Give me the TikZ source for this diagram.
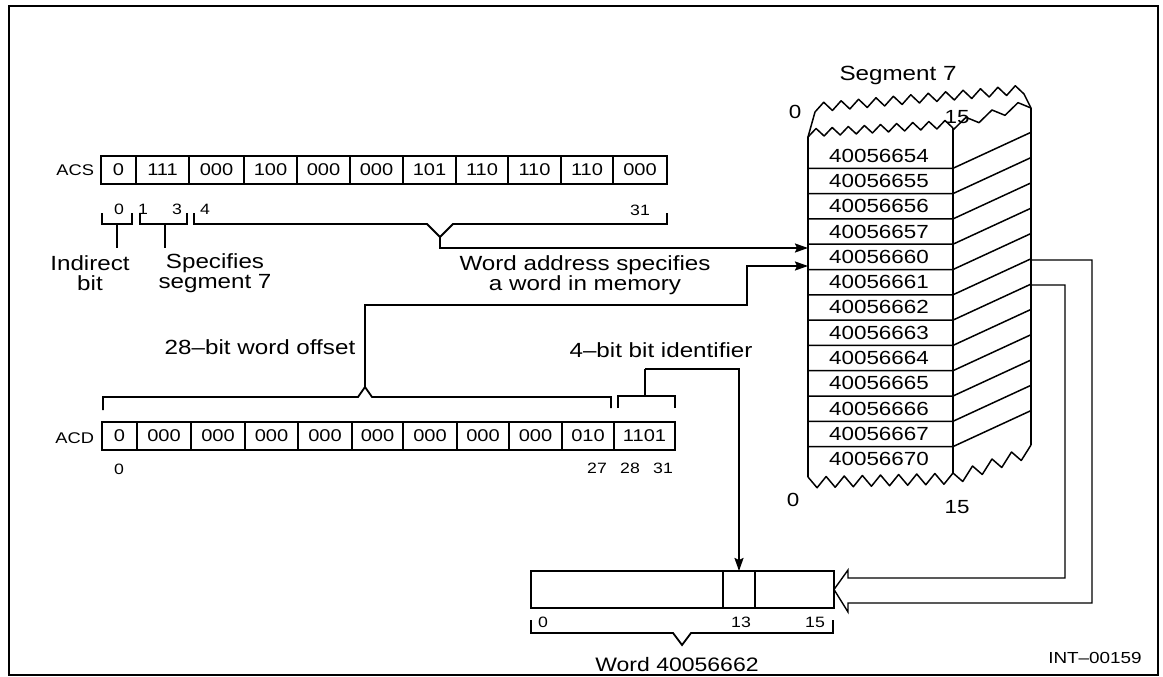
\documentclass[tikz,border=0pt]{standalone}
\usepackage{fontspec}
\setmainfont{Liberation Sans}[FakeStretch=1.18]
\usetikzlibrary{arrows.meta}
\begin{document}
\begin{tikzpicture}[x=1pt,y=-1pt,
  every node/.style={inner sep=0pt,outer sep=0pt},
  cellbox/.style={draw,line width=1.8pt,minimum height=28pt,font=\fontsize{17}{17}\selectfont},
  wire/.style={line width=1.8pt},
  segline/.style={line width=1.5pt,line join=round},
  outline/.style={line width=1.4pt},
  big/.style={font=\fontsize{20.5}{20}\selectfont,align=center},
  small/.style={font=\fontsize{15}{15}\selectfont},
  reglbl/.style={font=\fontsize{15.5}{15.5}\selectfont,anchor=east},
  rowtxt/.style={font=\fontsize{19}{19}\selectfont},
  seglbl/.style={font=\fontsize{19}{19}\selectfont},
  arr/.style={-{Stealth[length=13pt,width=9pt,inset=2pt]}}
]
\useasboundingbox (0,0) rectangle (1163,677);
\draw[line width=2pt] (9,6) rectangle (1158,675);

% ---------------- ACS register ----------------
\node[reglbl] (acslbl) at (94,170) {ACS};
\foreach \l/\r/\v [count=\i] in {101/136/0,136/189/111,189/244/000,244/297/100,297/350/000,350/403/000,403/456/101,456/508/110,508/561/110,561/613/110,613/667/000}
  \node[cellbox,minimum width={(\r-\l)*1pt}] (acs\i) at ({(\l+\r)/2},170) {\v};
\node[small] (acsb0) at (119,209) {0};
\node[small] (acsb1) at (143,209) {1};
\node[small] (acsb3) at (177,209) {3};
\node[small] (acsb4) at (205,209) {4};
\node[small] (acsb31) at (640,210) {31};

% brackets under ACS
\coordinate (ind) at (117,248);
\coordinate (spc) at (165,248);
\coordinate (wa) at (440,237);
\draw[wire] (102,213) -- (102,224) -- (132,224) -- (132,213);
\draw[wire] (117,224) -- (ind);
\draw[wire] (140,213) -- (140,224) -- (187,224) -- (187,213);
\draw[wire] (165,224) -- (spc);
\draw[wire] (194,213) -- (194,224) -- (427,224) -- (wa) -- (453,224) -- (667,224) -- (667,213);

\node[big] (indirect) at (90,273) {Indirect\\bit};
\node[big] (specifies) at (215,273) {Specifies\\segment 7};
\node[big] (wordaddr) at (585,275) {Word address specifies\\a word in memory};

% ---------------- ACD register ----------------
\node[reglbl] (acdlbl) at (94,438) {ACD};
\foreach \l/\r/\v [count=\i] in {102/137/0,137/191/000,191/245/000,245/298/000,298/352/000,352/403/000,403/457/000,457/509/000,509/562/000,562/614/010,614/675/1101}
  \node[cellbox,minimum width={(\r-\l)*1pt}] (acd\i) at ({(\l+\r)/2},436) {\v};
\node[small] (acdb0) at (119,469) {0};
\node[small] (acdb27) at (597,468) {27};
\node[small] (acdb28) at (630,468) {28};
\node[small] (acdb31) at (663,468) {31};

\coordinate (off) at (365,387);
\coordinate (bid) at (645,369);
\draw[wire] (103,410) -- (103,397) -- (358,397) -- (off) -- (372,397) -- (611,397) -- (611,408);
\draw[wire] (618,408) -- (618,396) -- (675,396) -- (675,408);
\draw[wire] (645,396) -- (bid);

\node[big] (offset) at (260,347) {28–bit word offset};
\node[big] (bitid) at (661,350) {4–bit bit identifier};

% ---------------- Segment 7 ----------------
\node[font=\fontsize{20.5}{20}\selectfont] (seg) at (898,75) {Segment 7};
\node[seglbl] (s0t) at (795,112) {0};
\node[seglbl] (s15t) at (957,117) {15};
\node[seglbl] (s0b) at (793,500) {0};
\node[seglbl] (s15b) at (957,507) {15};

\foreach \v [count=\k from 0] in {40056654,40056655,40056656,40056657,40056660,40056661,40056662,40056663,40056664,40056665,40056666,40056667,40056670}
  \node[rowtxt] (r\v) at (879,{155.65+25.3*\k}) {\v};

\draw[segline] (808,137) -- (808,477);
\draw[segline] (953,128) -- (953,473);
\draw[segline] (1031,108) -- (1031,445);
\foreach \k in {1,...,12}
  \draw[segline] (808,{143+25.3*\k}) -- (953,{143+25.3*\k}) -- (1031,{107+25.3*\k});
% torn top
\draw[segline] (808,137) -- (815,112);
\draw[segline] plot[variable=\t,samples at={0,...,18}] ({808+\t*145/18},{137-\t*9/18-mod(\t,2)*8});
\draw[segline] plot[variable=\t,samples at={0,...,24}] ({815+\t*209/24},{112-\t*18/24-mod(\t,2)*9}) -- (1031,108);
\draw[segline] plot[variable=\t,samples at={0,...,6}] ({953+\t*78/6},{130-\t*22/6-mod(\t,2)*9});
% torn bottom
\draw[segline] plot[variable=\t,samples at={0,...,16}] ({808+\t*145/16},{477-\t*4/16+mod(\t,2)*11});
\draw[segline] plot[variable=\t,samples at={0,...,8}] ({953+\t*78/8},{473-\t*28/8+mod(\t,2)*12});

\coordinate (in1) at (808,248);
\coordinate (in2) at (808,266);
\coordinate (o1) at (1031,260);
\coordinate (o2) at (1031,285);

% ---------------- Word ----------------
\node[draw,line width=1.8pt,minimum width=192pt,minimum height=37pt] (wlo) at (627,589.5) {};
\node[draw,line width=1.8pt,minimum width=32pt,minimum height=37pt] (wmid) at (739,589.5) {};
\node[draw,line width=1.8pt,minimum width=79pt,minimum height=37pt] (whi) at (794.5,589.5) {};
\node[small] (w0) at (543,622) {0};
\node[small] (w13) at (741,622) {13};
\node[small] (w15) at (815,622) {15};
\coordinate (wv) at (682,645);
\draw[wire] (531,620) -- (531,633) -- (673,633) -- (wv) -- (691,633) -- (833,633) -- (833,620);
\node[font=\fontsize{19.5}{19.5}\selectfont] (wordlbl) at (677,665) {Word 40056662};

% ---------------- connectors ----------------
\draw[wire,arr] (wa) -- (440,248) -- (in1);
\draw[wire,arr] (off) -- (365,305) -- (747,305) -- (747,266) -- (in2);
\draw[wire,arr] (bid) -| (wmid.north);
\draw[outline] (o1) -- (1092,260) -- (1092,603) -- (848,603) -- (848,612) -- (whi.east) -- (848,570) -- (848,578) -- (1065,578) -- (1065,285) -- (o2);

\node[font=\fontsize{16}{16}\selectfont] (int) at (1095,658) {INT–00159};
\end{tikzpicture}
\end{document}
